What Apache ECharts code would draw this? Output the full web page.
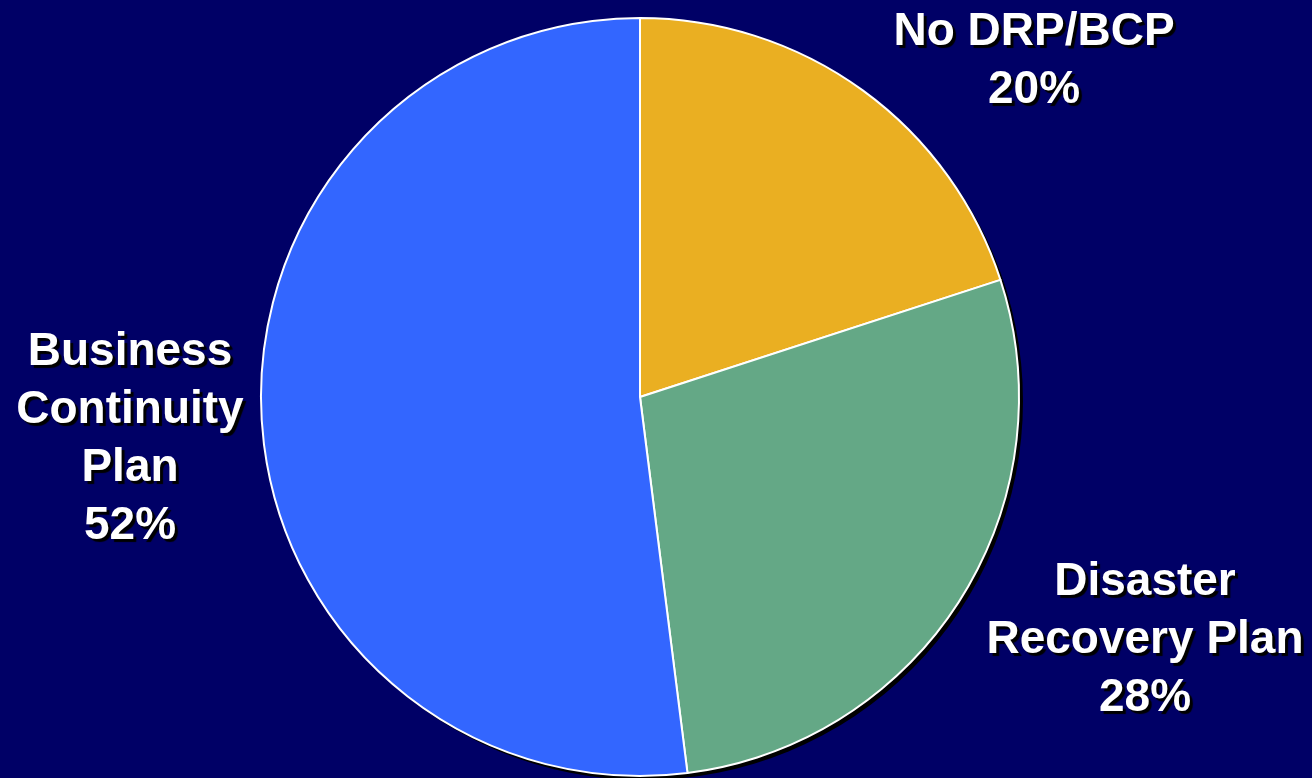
<!DOCTYPE html>
<html>
<head>
<meta charset="utf-8">
<script src="https://cdn.jsdelivr.net/npm/echarts@6/dist/echarts.min.js"></script>
<style>
  html, body { margin: 0; padding: 0; background: #000066; }
  #pie_plan { width: 1312px; height: 778px; }
</style>
</head>
<body>
<div id="pie_plan"></div>
<script>
// 数据
var planNames = ['No DRP/BCP', 'Disaster\nRecovery Plan', 'Business\nContinuity\nPlan'];
var planValues = [20, 28, 52];
var planColors = ['#EAAF22', '#64A886', '#3366FF'];

// label centres (text only)
var labelPos = [[1034, 61], [1145, 640], [130, 439]];

var chart = echarts.init(document.getElementById('pie_plan'));

var pieData = planNames.map(function (n, i) {
    return { name: n, value: planValues[i], itemStyle: { color: planColors[i] } };
});

var option = {
    backgroundColor: '#000066',
    animation: false,
    series: [
        {
            // 阴影底盘
            type: 'pie',
            silent: true,
            z: 1,
            center: [644, 401],
            radius: 379,
            data: [{ value: 1, name: 'shadow' }],
            itemStyle: { color: '#000000' },
            label: { show: false },
            labelLine: { show: false }
        },
        {
            type: 'pie',
            z: 2,
            center: [640, 397],
            radius: 379,
            startAngle: 90,
            clockwise: true,
            data: pieData,
            itemStyle: {
                borderColor: '#ffffff',
                borderWidth: 2
            },
            labelLine: { show: false },
            label: {
                show: true,
                position: 'outside',
                overflow: 'none',
                formatter: function (p) {
                    return p.name + '\n' + p.value + '%';
                },
                color: '#ffffff',
                fontFamily: 'Liberation Sans',
                fontWeight: 'bold',
                fontSize: 46,
                lineHeight: 58,
                align: 'center',
                textShadowColor: '#000000',
                textShadowOffsetX: 3,
                textShadowOffsetY: 3,
                textShadowBlur: 1
            },
            labelLayout: function (params) {
                var p = labelPos[params.dataIndex];
                return { x: p[0], y: p[1], align: 'center', verticalAlign: 'middle' };
            }
        }
    ]
};
chart.setOption(option);
</script>
</body>
</html>
